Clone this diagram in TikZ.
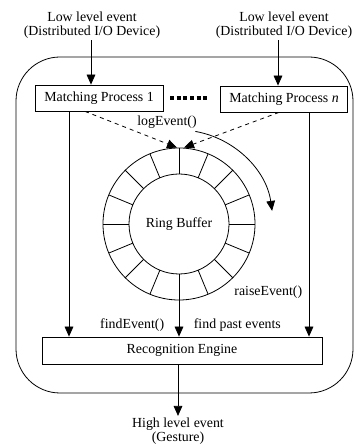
\documentclass[tikz,border=0pt]{standalone}
\usepackage{fontspec}
\setmainfont{Liberation Serif}
\usetikzlibrary{arrows.meta}

\begin{document}
\begin{tikzpicture}[x=.75pt,y=.75pt,font=\fontsize{10.4}{10.6}\selectfont,
  line width=.6pt,
  box/.style={draw,minimum height=19.5pt,inner xsep=6.5pt},
  arr/.style={-{Triangle[length=7.5pt,width=6.5pt]}},
  lbl/.style={align=center,inner sep=1pt}]
\useasboundingbox (0,0) rectangle (354,445);

% outer frame
\draw[rounded corners=33pt] (16,52) rectangle (353,388);

% inputs and matching processes
\node[lbl] (in1) at (92,420) {Low level event\\(Distributed I/O Device)};
\node[lbl] (in2) at (284,420) {Low level event\\(Distributed I/O Device)};
\node[box,minimum width=96pt] (mp1) at (99,347) {Matching Process 1};
\node[box,minimum width=93pt] (mpn) at (284,346) {Matching Process \textit{n}};

\draw[arr] ([shift={(-1,0)}]in1.south) coordinate (a1) -- (a1 |- mp1.north);
\draw[arr] ([shift={(-6,0)}]in2.south) coordinate (a2) -- (a2 |- mpn.north);
\draw[line width=3pt,dash pattern=on 3pt off 2pt,shorten <=5pt,shorten >=9pt]
  (mp1.east) -- (mp1.east -| mpn.west);

% ring buffer
\node[circle,draw,minimum size=114pt,inner sep=0pt] (ring) at (179,221) {Ring Buffer};
\draw (ring.center) circle (50);
\foreach \ang in {0,22.5,...,337.5}
  \draw (ring.center) ++(\ang:50) -- ++(\ang:26);

\draw[arr,dashed] ([shift={(-14,0)}]mp1.south) -- ([shift={(-2,0)}]ring.north);
\draw[arr,dashed] ([shift={(-5,0)}]mpn.south) -- ([shift={(5,0)}]ring.north);
\node (log) at (167,323) {logEvent()};
\draw[arr] ([shift={(80:94)}]ring.center) arc[start angle=80,end angle=8,radius=94];

% recognition engine
\node[box,minimum width=210pt,minimum height=20.25pt] (eng) at (182,94.5) {Recognition Engine};

\draw[arr] ([shift={(-30,0)}]mp1.south) coordinate (l1) -- (l1 |- eng.north);
\draw[arr] ([shift={(25,0)}]mpn.south) coordinate (r1) -- (r1 |- eng.north);
\draw[arr] (ring.south) -- (ring.south |- eng.north);

\node[anchor=east] (raise) at (307,153) {raiseEvent()};
\node[anchor=east] (find) at (169,120) {findEvent()};
\node[anchor=west] (past) at (189,120) {find past events};

% output
\node[lbl] (out) at (178,14) {High level event\\(Gesture)};
\draw[arr] (out.north |- eng.south) -- (out.north);

\end{tikzpicture}
\end{document}
